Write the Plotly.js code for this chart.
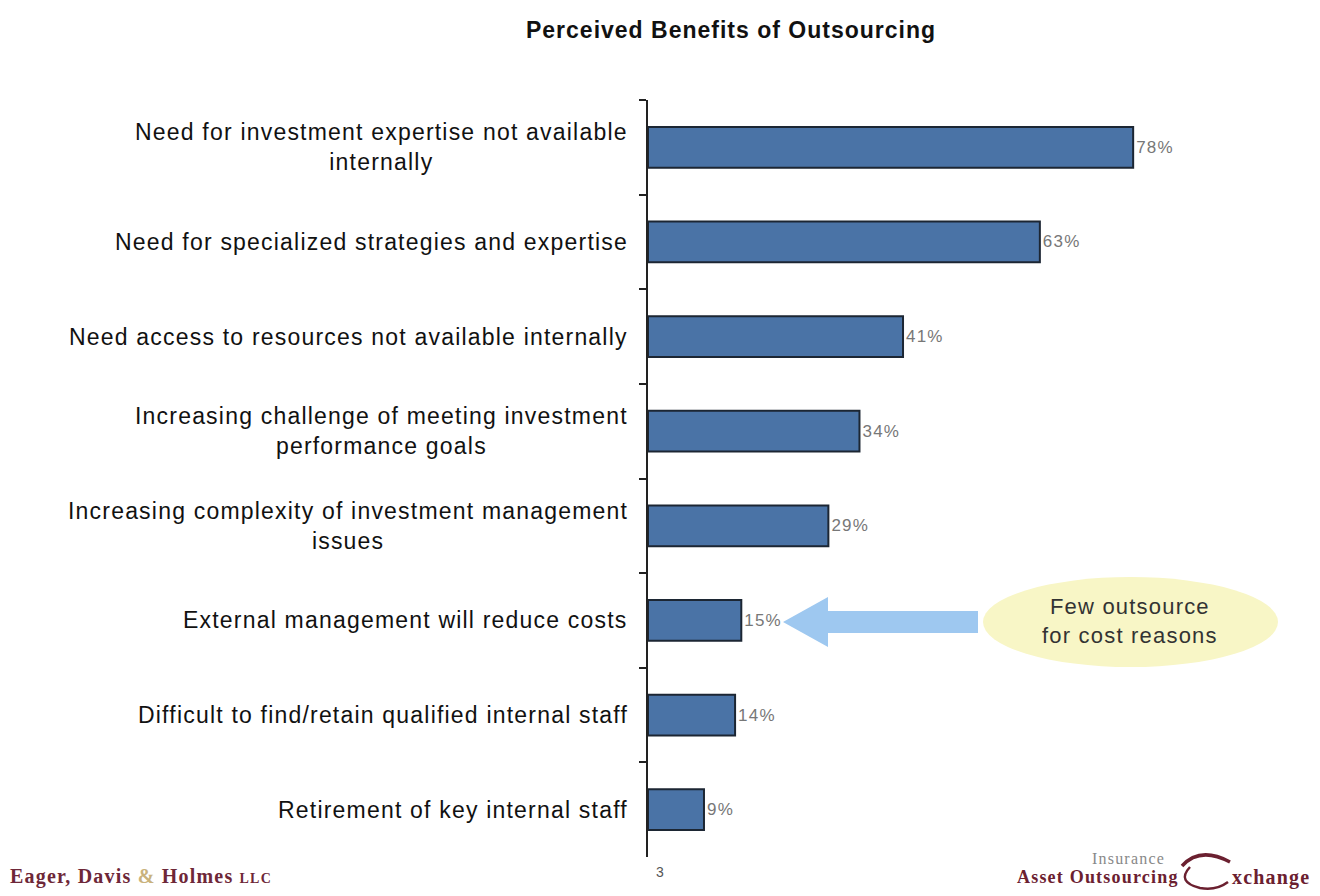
<!DOCTYPE html>
<html>
<head>
<meta charset="utf-8">
<script src="https://cdn.plot.ly/plotly-3.0.1.min.js"></script>
<style>
html,body{margin:0;padding:0;background:#fff;}
#chart{width:1320px;height:896px;}
.annotation-text{letter-spacing:1.2px;}
.gtitle{letter-spacing:1px;}
text.bartext{letter-spacing:1.2px;}
</style>
</head>
<body>
<div id="chart"></div>
<script>
// ---- data ----
const categories = [
  "Need for investment expertise not available<br>internally",
  "Need for specialized strategies and expertise",
  "Need access to resources not available internally",
  "Increasing challenge of meeting investment<br>performance goals",
  "Increasing complexity of investment management<br>issues",
  "External management will reduce costs",
  "Difficult to find/retain qualified internal staff",
  "Retirement of key internal staff"
];
const values = [78, 63, 41, 34, 29, 15, 14, 9];
const chartTitle = "Perceived Benefits of Outsourcing";
const calloutText = "Few outsource<br>for cost reasons";
const pageNumber = "3";

// ---- layout helpers (pixel -> paper) ----
const W = 1320, H = 896;
const M = {l: 648, r: 50, t: 100, b: 39};
const PW = W - M.l - M.r, PH = H - M.t - M.b;
const px = x => (x - M.l) / PW;
const py = y => (H - M.b - y) / PH;

const SANS = "Liberation Sans, Arial, sans-serif";
const SERIF = "Liberation Serif, Times New Roman, serif";
const labelFont = {family: SANS, size: 23, color: "#111"};

const trace = {
  type: "bar",
  orientation: "h",
  x: values,
  y: categories,
  width: 0.43,
  marker: {color: "#4a73a6", line: {color: "#1c2633", width: 2}},
  text: values.map(v => v + "%"),
  textposition: "outside",
  constraintext: "none",
  cliponaxis: false,
  textfont: {family: SANS, size: 17, color: "#777"},
  hoverinfo: "none"
};

const annotations = categories.map(c => ({
  x: 0, xref: "paper", y: c, yref: "y",
  xanchor: "right", yanchor: "middle", xshift: -18,
  text: c, align: "center", showarrow: false, font: labelFont
}));

function note(x, y, text, font, xanchor) {
  return {x: px(x), y: py(y), xref: "paper", yref: "paper", text: text,
          xanchor: xanchor || "center", yanchor: "middle", align: "center",
          showarrow: false, font: font};
}

annotations.push(
  note(1130, 621, calloutText, {family: SANS, size: 22, color: "#333"}),
  note(660, 872, pageNumber, {family: SANS, size: 14, color: "#555"}),
  note(8, 876, "<b>Eager, Davis <span style='color:#c9b27c'>&amp;</span> Holmes <span style='font-size:14px'>LLC</span></b>",
       {family: SERIF, size: 20, color: "#6e2738"}, "left"),
  note(1128, 858, "Insurance", {family: SERIF, size: 16, color: "#888"}),
  note(1181, 877, "<b>Asset Outsourcing</b>", {family: SERIF, size: 18, color: "#6b2030"}, "right"),
  note(1230, 877, "<b>xchange</b>", {family: SERIF, size: 20, color: "#6b2030"}, "left")
);

function P(points){ // pixel polygon -> paper path
  return points.map((p, i) => (i ? "L" : "M") + px(p[0]) + "," + py(p[1])).join(" ") + " Z";
}
function Q(a, c, b, c2, d){ // pixel quadratic path(s)
  let s = "M" + px(a[0]) + "," + py(a[1]) + " Q" + px(c[0]) + "," + py(c[1]) + " " + px(b[0]) + "," + py(b[1]);
  if (c2) s += " Q" + px(c2[0]) + "," + py(c2[1]) + " " + px(d[0]) + "," + py(d[1]);
  return s;
}

const shapes = [
  // callout ellipse
  {type: "circle", xref: "paper", yref: "paper", x0: px(983), x1: px(1278), y0: py(667), y1: py(577),
   fillcolor: "#f8f6c6", line: {width: 0}, layer: "below"},
  // arrow
  {type: "path", xref: "paper", yref: "paper",
   path: P([[978,611],[828,611],[828,597],[783,622],[828,647],[828,633],[978,633]]),
   fillcolor: "#9ec8f0", line: {width: 0}},
  // logo swoosh
  {type: "path", xref: "paper", yref: "paper",
   path: Q([1182,866], [1200,846], [1230,862]),
   line: {color: "#6b2030", width: 3.5}},
  {type: "path", xref: "paper", yref: "paper",
   path: Q([1190,867], [1176,882], [1200,888], [1216,891], [1228,882]),
   line: {color: "#6b2030", width: 2.5}}
];

const layout = {
  width: W, height: H,
  margin: M,
  paper_bgcolor: "#fff", plot_bgcolor: "#fff",
  showlegend: false,
  title: {text: "<b>" + chartTitle + "</b>", xref: "container", x: 731 / W, y: 1 - 30 / H,
          xanchor: "center", yanchor: "middle",
          font: {family: SANS, size: 23, color: "#111"}},
  xaxis: {range: [0, 100], visible: false, fixedrange: true},
  yaxis: {type: "category", autorange: "reversed", showticklabels: false,
          showline: true, linecolor: "#222", linewidth: 2,
          ticks: "outside", tickson: "boundaries", ticklen: 7, tickwidth: 2, tickcolor: "#222",
          showgrid: false, zeroline: false, fixedrange: true},
  annotations: annotations,
  shapes: shapes
};

Plotly.newPlot("chart", [trace], layout, {displayModeBar: false, staticPlot: true});
</script>
</body>
</html>
